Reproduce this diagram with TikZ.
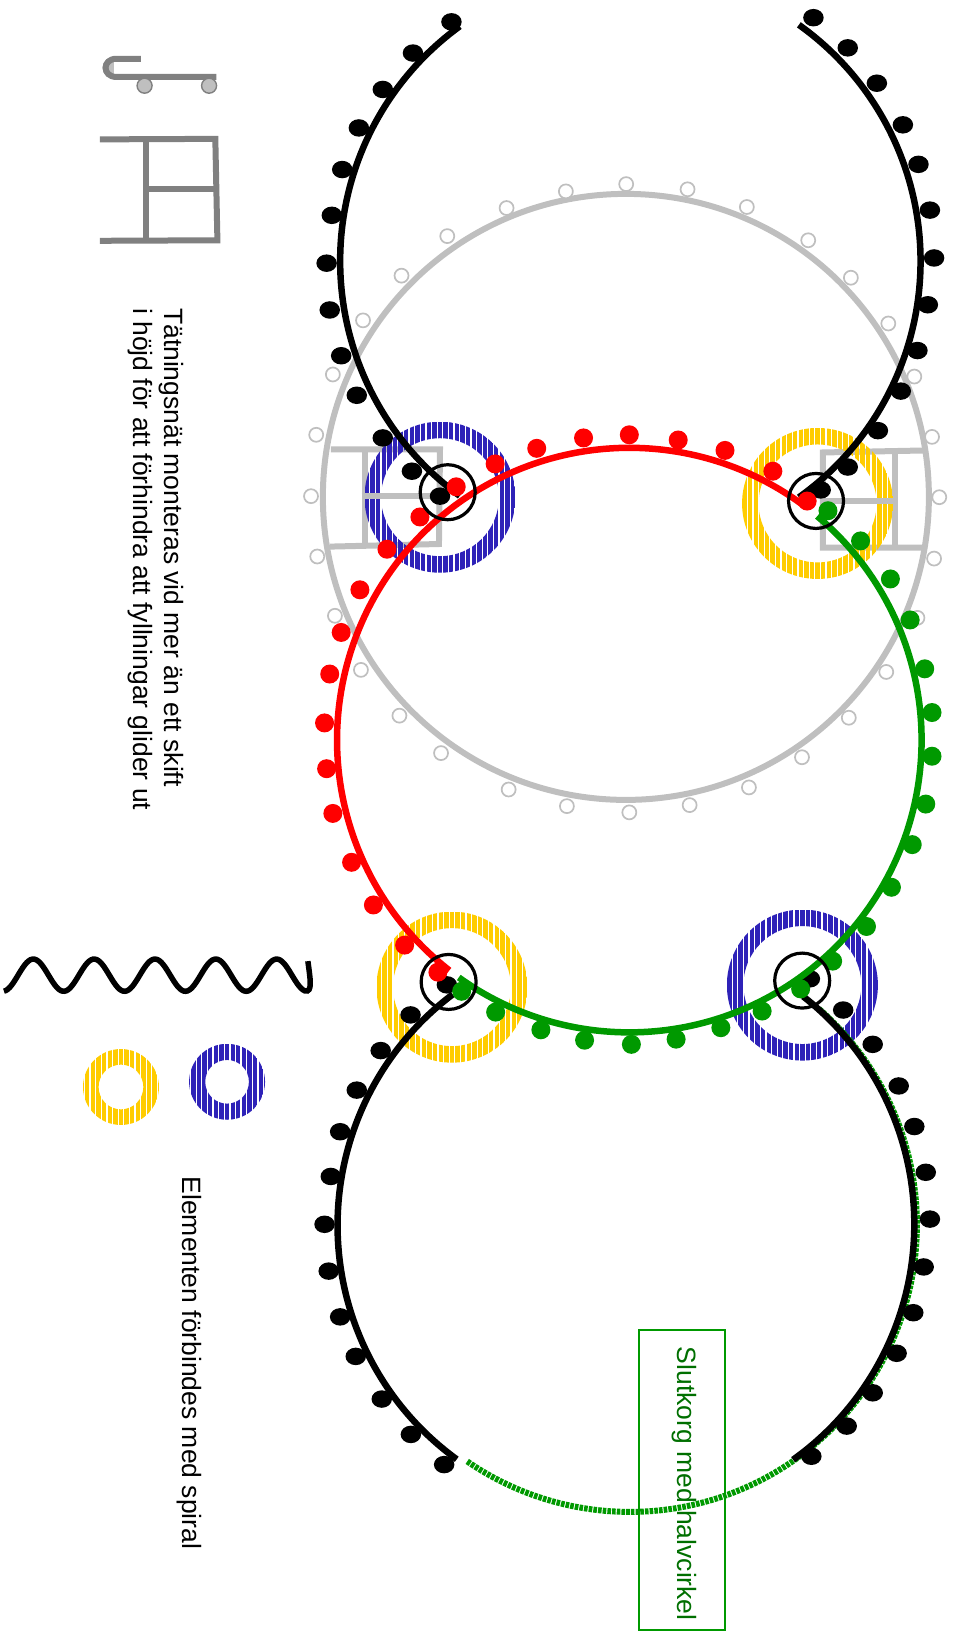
\documentclass[tikz,border=0pt]{standalone}
\usepackage{fontspec}
\usetikzlibrary{shapes.geometric}
\setmainfont{Liberation Sans}
\definecolor{ringA}{HTML}{2E22B8}
\definecolor{ringB}{HTML}{FFCC00}
\definecolor{korgG}{HTML}{009900}
\definecolor{korgT}{HTML}{006F00}
\definecolor{natA}{HTML}{BFBFBF}
\definecolor{natB}{HTML}{808080}
\tikzset{
  even odd clip/.code={\pgfseteorule},
  bulb/.style={circle,inner sep=0pt,minimum size=19pt},
  blackbulb/.style={ellipse,fill=black,inner sep=0pt,minimum width=20.5pt,minimum height=17.5pt},
  redbulb/.style={bulb,fill=red},
  greenbulb/.style={bulb,fill=korgG},
  openbulb/.style={circle,draw=natA,line width=1.7pt,fill=white,inner sep=0pt,minimum size=14pt},
  wheel/.style={circle,draw=natB,line width=1.4pt,fill=natA,inner sep=0pt,minimum size=15pt},
  joint/.style={circle,draw=black,line width=3.2pt,inner sep=0pt,minimum size=55pt},
  note/.style={font=\fontsize{26.5}{31.4}\selectfont,rotate=-90,align=left,anchor=north west,inner sep=0pt},
}
\newcommand{\hatchring}[5]{% x, y, colour, outer, inner
  \begin{scope}
    \clip[even odd clip] (#1,#2) circle[radius=#4] (#1,#2) circle[radius=#5];
    \foreach \i in {-14,...,14}
      \fill[#3] ({#1+\i*5.4-2.1},{#2-#4}) rectangle ({#1+\i*5.4+2.1},{#2+#4});
  \end{scope}}
\newcommand{\rimarc}[6]{% x, y, radius, from, to, style
  \draw[#6] plot[domain=#4:#5,samples=120,smooth] ({#1+#3*cos(\x)},{#2+#3*sin(\x)});}
\begin{document}
\begin{tikzpicture}[x=1.0403pt,y=-1.0403pt]
\useasboundingbox (0,0) rectangle (919,1568);
% legend at the top
\fill[natA] (135.5,54) -- (112,54) .. controls (94,54) and (94,76) .. (112,76) -- (135.5,76) -- cycle;
\fill[white] (110,60) rectangle (135.5,71.5);
\draw[natB,line width=6pt] (135.5,56.5) -- (112,56.5) .. controls (98,56.5) and (98,74) .. (112,74) -- (208,74);
\node[wheel] (wheelA) at (139,82.4) {};
\node[wheel] (wheelB) at (201,82.4) {};
\draw[natB,line width=6pt] (96,134) -- (207,133.5) -- (209,231) -- (96,231.5);
\draw[natB,line width=6pt] (140.5,134) -- (140.5,231) (140.5,182) -- (208,182);
\node[note] (natnote) at (177,296) {Tätningsnät monteras vid mer än ett skift\\i höjd för att förhindra att fyllningar glider ut};
% the seal nets
\draw[natA,line width=6pt] (318,432) -- (423,432) -- (422,523) -- (317,525.5);
\draw[natA,line width=6pt] (351,432) -- (351,525);
\draw[natA,line width=6pt] (892,433) -- (791,435) -- (791,526.5) -- (891,526.5);
\draw[natA,line width=6pt] (860.5,434) -- (860.5,526.5);
% grey ring
\draw[natA,line width=6pt] (601.7,477.7) circle[radius=291.3];
\foreach \a/\b in {602/177,661/182,718/199,777/231,818/267,854/311,879/362,896/420,903/478,898/537,882/594,852/646,816/690,771/728,720/757,663/774,605/781,545/775,489/759,424/724,384/688,347/644,322/592,305/535,299/477,304/418,320/360,349/308,386/265,430/227,487/200,544/184}
  \node[openbulb] at (\a,\b) {};
% rings
\hatchring{423}{478}{ringA}{72.6}{56.7}
\hatchring{786}{484}{ringB}{72.6}{56.7}
\hatchring{434.5}{949}{ringB}{72.6}{56.7}
\hatchring{771.4}{947}{ringA}{72.6}{56.7}
\hatchring{116.3}{1045}{ringB}{36.5}{21.5}
\hatchring{218.3}{1040}{ringA}{36.5}{21}
\draw[natA,line width=6pt] (347.6,477) -- (426,477);
\draw[natA,line width=6pt] (791,482) -- (863,482);
% spiral
\draw[black,line width=5.5pt] plot[domain=3.8:293,samples=160] (\x,{937.5-15.5*cos((\x-32)/58.5*360)}) .. controls (301,955) and (298,940) .. (296,924);
\node[note] (spiralnote) at (194,1131) {Elementen förbindes med spiral};
% green half circle at the end
\draw[korgG,line width=6pt,dash pattern=on 3.6pt off 1.1pt] plot[domain=124.5:-49,samples=160] ({605.5+276*cos(\x)},{1177.5+276*sin(\x)});
% black arcs
\rimarc{606}{251}{279}{234}{126}{black,line width=6.5pt}
\rimarc{606}{251}{279}{-54.5}{54.5}{black,line width=6.5pt}
\rimarc{602.5}{1178}{278}{233}{126}{black,line width=6.5pt}
\rimarc{601}{1177}{278}{-52}{54.5}{black,line width=6.5pt}
\foreach \a/\b in {434/21,397/51,368/86,345/123,329/163,319/207,314/253,317/298,328/342,343/380,368/421,396/453,423/477,782/17,815/46,843/80,868/120,883/158,894/202,898/248,892/293,882/337,866/376,844/414,815/449,789/471,429.6/946.8,394.7/975.7,366/1010,343/1048,327/1088,318/1131,312/1177,316/1222,327/1266,342/1304,367/1345,395/1379,427/1408,778.6/941,810.6/971,839/1004,864/1044,879/1083,890/1127,894/1172,888/1218,878/1262,862/1301,839/1339,814/1371,780/1400}
  \node[blackbulb] at (\a,\b) {};
% red and green arcs
\rimarc{605}{711.5}{281}{-53}{-232}{red,line width=6.5pt}
\rimarc{605}{711.5}{281}{-50}{125.7}{korgG,line width=6.5pt}
\foreach \a/\b in {776/481.7,743/453,697/433,652/423,605/418,561/421,516/431,476/446,438.6/468,403.7/497,372/528,346/567,328/608,317/648,312/695,314/739,320/782,338/829,359/870,389/908.6,421/934.6}
  \node[redbulb] at (\a,\b) {};
\foreach \a/\b in {796/491,827.3/520,856/556.6,875/596,889/643,896/685,896/727,890/773,877/812,857/853,833/890.7,800.5/924,769.7/950.7,732.7/972,693/988,650/999,607/1004,562/1000,520/990,476.5/973,443.8/953}
  \node[greenbulb] at (\a,\b) {};
% joints
\node[joint] (jointA) at (430.4,473.2) {};
\node[joint] (jointB) at (784.5,481.6) {};
\node[joint] (jointC) at (431.3,944) {};
\node[joint] (jointD) at (771.2,942.7) {};
% end basket label
\node[draw=korgG,line width=1.8pt,inner sep=0pt,minimum width=85.9pt,minimum height=300.5pt,anchor=north west] (korgbox) at (613.6,1277.5) {};
\node[note,text=korgT] (korgnote) at (670,1294.5) {Slutkorg med halvcirkel};
\end{tikzpicture}
\end{document}
